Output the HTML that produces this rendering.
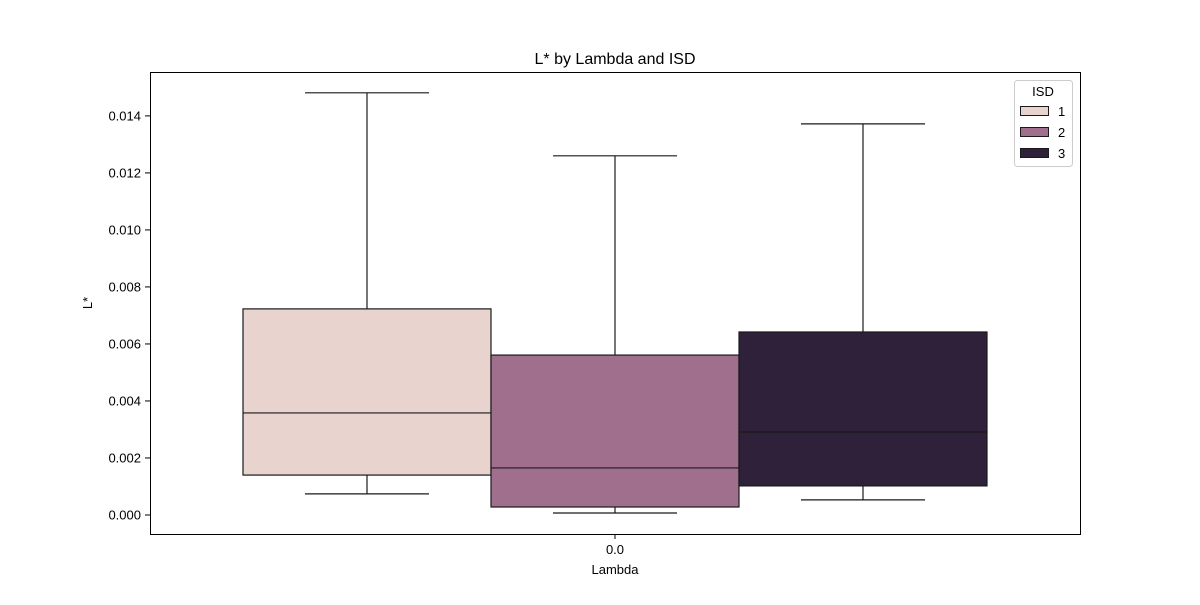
<!DOCTYPE html>
<html><head><meta charset="utf-8"><style>
body{margin:0;background:#fff;font-family:"Liberation Sans","DejaVu Sans",sans-serif}
</style></head><body>
<svg id="chart" width="1200" height="600" xmlns="http://www.w3.org/2000/svg">
<text x="615" y="64" text-anchor="middle" font-size="16">L* by Lambda and ISD</text>
<g id="marks"></g>
<g id="yticks"></g>
<rect x="150.5" y="72.5" width="930" height="462" fill="none" stroke="#000" stroke-width="1"/>
<line x1="615" x2="615" y1="534" y2="539" stroke="#000"/>
<text x="615" y="554" text-anchor="middle" font-size="13">0.0</text>
<text x="615" y="574" text-anchor="middle" font-size="13">Lambda</text>
<text transform="translate(92,303) rotate(-90)" text-anchor="middle" font-size="13">L*</text>
<g>
<rect x="1014.5" y="80.5" width="58" height="86" rx="3" fill="#fff" stroke="#ccc"/>
<text x="1043" y="96" text-anchor="middle" font-size="13">ISD</text>
<g id="legend"></g>
</g>
</svg>
<script>
const groups = ["1","2","3"];
const whiskerLow = [0.00074, 0.00007, 0.00053];
const q1 = [0.0014, 0.00028, 0.00102];
const median = [0.00358, 0.00165, 0.00291];
const q3 = [0.00723, 0.00561, 0.00642];
const whiskerHigh = [0.01481, 0.0126, 0.01372];
const yTicks = [0, 0.002, 0.004, 0.006, 0.008, 0.010, 0.012, 0.014];
const yTickLabels = ["0.000","0.002","0.004","0.006","0.008","0.010","0.012","0.014"];
const colors = ["#e8d3cf","#a16f8e","#2e2139"];
const ymin=-0.000667, ymax=0.01554, plotTop=72, plotBottom=534;
const y = v => plotBottom - (v - ymin)/(ymax - ymin)*(plotBottom-plotTop);
const bw = 248, x0 = 243;
const xs = i => x0 + i*bw;
const NS="http://www.w3.org/2000/svg";
function mk(tag, attrs, parent){const e=document.createElementNS(NS,tag);for(const k in attrs)e.setAttribute(k,attrs[k]);parent.appendChild(e);return e;}
const marks=document.getElementById('marks');
groups.forEach((g,i)=>{
  const l=xs(i), c=l+bw/2;
  let e;
  e=mk('line',{x1:c,x2:c,y1:y(whiskerHigh[i]),y2:y(q3[i]),stroke:'#1a1a1a','stroke-width':1.2},marks);
  
  
  e=mk('line',{x1:c,x2:c,y1:y(q1[i]),y2:y(whiskerLow[i]),stroke:'#1a1a1a','stroke-width':1.2},marks);
  
  
  e=mk('line',{x1:c-bw/4,x2:c+bw/4,y1:y(whiskerHigh[i]),y2:y(whiskerHigh[i]),stroke:'#1a1a1a','stroke-width':1.2},marks);
  
  
  e=mk('line',{x1:c-bw/4,x2:c+bw/4,y1:y(whiskerLow[i]),y2:y(whiskerLow[i]),stroke:'#1a1a1a','stroke-width':1.2},marks);
  
  
  e=mk('rect',{x:l,y:y(q3[i]),width:bw,height:y(q1[i])-y(q3[i]),fill:colors[i],stroke:'#1a1a1a','stroke-width':1.2},marks);
  
  
  e=mk('line',{x1:l,x2:l+bw,y1:y(median[i]),y2:y(median[i]),stroke:'#1a1a1a','stroke-width':1.2},marks);
  
  
});
const yt=document.getElementById('yticks');
yTicks.forEach((v,i)=>{
  let e=mk('line',{x1:145,x2:150,y1:y(v),y2:y(v),stroke:'#000'},yt);
  
  
  e=mk('text',{x:141,y:y(v)+4.5,'text-anchor':'end','font-size':13},yt);
  e.textContent=yTickLabels[i];
  
  
});
const lg=document.getElementById('legend');
groups.forEach((g,i)=>{
  const yy=106+i*21;
  let e=mk('rect',{x:1020.5,y:yy+0.5,width:28,height:9,fill:colors[i],stroke:'#1a1a1a'},lg);
  
  
  e=mk('text',{x:1058,y:yy+10,'font-size':13},lg);
  e.textContent=g;
  
  
});
</script>
</body></html>
